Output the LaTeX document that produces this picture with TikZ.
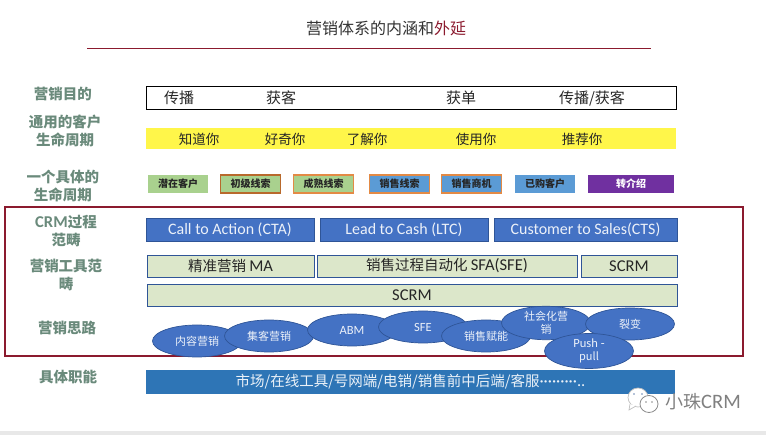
\documentclass[tikz,border=0pt]{standalone}
\usepackage{fontspec}
\usepackage{tikz}
\usetikzlibrary{shapes.geometric}
\setmainfont{Noto Sans CJK SC}
\newfontfamily\latin[Scale=1.14]{Carlito}
\definecolor{crimson}{HTML}{8B1A2E}
\definecolor{sage}{HTML}{6A8A7B}
\definecolor{navy}{HTML}{2F5597}
\definecolor{royal}{HTML}{4472C4}
\definecolor{pale}{HTML}{DCE7CA}
\definecolor{leaf}{HTML}{A9D18E}
\definecolor{sky}{HTML}{5B9BD5}
\definecolor{sun}{HTML}{FFF64A}
\definecolor{grape}{HTML}{7030A0}
\definecolor{ocean}{HTML}{2E75B6}
\definecolor{rust}{HTML}{B8692C}
\definecolor{tangerine}{HTML}{E38A45}
\tikzset{
  band/.style={rectangle,inner sep=0pt,minimum height=#1},
  rowlabel/.style={text=sage,font=\fontsize{14.5}{17.5}\selectfont\bfseries,align=center,inner sep=0pt},
  plain/.style={text=black!85,font=\fontsize{13.5}{17}\selectfont,inner sep=0pt},
  stage/.style={band=18pt,minimum width=#1,font=\fontsize{10}{12}\selectfont\bfseries,text=black!85},
  process/.style={band=23pt,minimum width=#1,draw=navy,line width=0.8pt,fill=royal,text=white!90!royal,font=\fontsize{14}{17}\selectfont},
  tool/.style={band=22pt,minimum width=#1,draw=navy,line width=0.8pt,fill=pale,text=black!85,font=\fontsize{14.5}{17}\selectfont},
  idea/.style={ellipse,inner sep=0pt,minimum width=89pt,minimum height=32pt,draw=navy,line width=0.7pt,fill=royal,text=white!90!royal,align=center,font=\fontsize{11}{13.5}\selectfont}
}
\begin{document}
\begin{tikzpicture}[x=1pt,y=-1pt]

    \useasboundingbox (0,0) rectangle (766,435);
    \fill[black!9] (0,431) rectangle (766,435);

    \node[inner sep=0pt,text=black!80,font=\fontsize{16}{19}\selectfont] (title) at (386,28) {营销体系的内涵和\textcolor{crimson}{外延}};
    \coordinate (ruleL) at (87,48);
    \coordinate (ruleR) at (651,48);
    \draw[crimson,line width=0.8pt] (ruleL) -- (ruleR);

    % left column
    \node[rowlabel] (lblGoal)  at (63,94)    {营销目的};
    \node[rowlabel] (lblCycle) at (65,131)   {通用的客户\\生命周期};
    \node[rowlabel] (lblOne)   at (63,186)   {一个具体的\\生命周期};
    \node[rowlabel] (lblCrm)   at (66,231)   {{\latin CRM}过程\\范畴};
    \node[rowlabel] (lblTool)  at (66,275)   {营销工具范\\畴};
    \node[rowlabel] (lblIdea)  at (67,328)   {营销思路};
    \node[rowlabel] (lblJob)   at (68,377)   {具体职能};

    % goal row
    \node[band=23.5pt,minimum width=530pt,draw=black,line width=0.8pt] (goal) at (411,98) {};
    \node[plain,font=\fontsize{15}{17}\selectfont] (goalA) at (179,98) {传播};
    \node[plain,font=\fontsize{15}{17}\selectfont] (goalB) at (281,98) {获客};
    \node[plain,font=\fontsize{15}{17}\selectfont] (goalC) at (461,98) {获单};
    \node[plain,font=\fontsize{15}{17}\selectfont] (goalD) at (592,98) {传播/获客};

    % yellow row
    \node[band=21pt,minimum width=530pt,fill=sun] (cycle) at (411,138.5) {};
    \node[plain] (cycleA) at (199,139) {知道你};
    \node[plain] (cycleB) at (285,139) {好奇你};
    \node[plain] (cycleC) at (367,139) {了解你};
    \node[plain] (cycleD) at (476,139) {使用你};
    \node[plain] (cycleE) at (582,139) {推荐你};

    % stages
    \node[stage=60pt,fill=leaf]                                        (stA) at (178,184)   {潜在客户};
    \node[stage=60pt,fill=leaf,draw=rust,line width=1.2pt]             (stB) at (250.5,184) {初级线索};
    \node[stage=60pt,fill=leaf,draw=tangerine,line width=1.2pt]        (stC) at (323.5,184) {成熟线索};
    \node[stage=60pt,fill=sky,draw=tangerine,line width=1.2pt]         (stD) at (399.5,184) {销售线索};
    \node[stage=60pt,fill=sky,draw=tangerine,line width=1.2pt]         (stE) at (471.5,184) {销售商机};
    \node[stage=60pt,fill=sky]                                         (stF) at (545,184)   {已购客户};
    \node[stage=86pt,fill=grape,text=white]                            (stG) at (631,184)   {转介绍};

    % frame
    \node[rectangle,draw=crimson,line width=2pt,minimum width=738pt,minimum height=149pt,inner sep=0pt] (frame) at (374,281.5) {};

    \node[process=168pt] (cta) at (230,229.5) {\latin Call to Action (CTA)};
    \node[process=168pt] (ltc) at (404,229.5) {\latin Lead to Cash (LTC)};
    \node[process=183pt] (cts) at (585.5,229.5) {\latin Customer to Sales(CTS)};

    \node[tool=167pt] (ma)    at (230.5,266) {精准营销 {\latin MA}};
    \node[tool=260pt] (sfa)   at (447,266)   {销售过程自动化 {\latin SFA(SFE)}};
    \node[tool=96pt]  (scrmA) at (629,266)   {\latin SCRM};
    \node[tool=530pt] (scrmB) at (412,295)   {\latin SCRM};

    % ideas, later ones lie on top
    \node[idea] (content) at (197,341) {内容营销};
    \node[idea] (inbound) at (269,336) {集客营销};
    \node[idea] (abm)     at (352,330) {\latin ABM};
    \node[idea] (sfe)     at (423,327) {\latin SFE};
    \node[idea] (enable)  at (486,336) {销售赋能};
    \node[idea] (social)  at (546,323) {社会化营\\销};
    \node[idea] (viral)   at (630,324) {裂变};
    \node[idea] (push)    at (589,351) {\latin Push -\\pull};

    % jobs
    \node[band=24pt,minimum width=529pt,fill=ocean,text=white!90!ocean,font=\fontsize{14.5}{17}\selectfont] (jobs) at (410.5,382)
        {市场/在线工具/号网端/电销/销售前中后端/客服{\latin \textperiodcentered\textperiodcentered\textperiodcentered\textperiodcentered\textperiodcentered\textperiodcentered\textperiodcentered\textperiodcentered\textperiodcentered..}};

    % watermark
    \node[inner sep=0pt,text=black!50,font=\fontsize{18}{21}\selectfont] (mark) at (703,402) {小珠{\latin CRM}};
    \draw[black!25,line width=0.7pt,fill=white] (638,397.5) ellipse (10pt and 9.5pt);
    \draw[black!25,line width=0.7pt,fill=white] (630,404) -- (629,410) -- (636,406);
    \draw[black!45,line width=0.8pt,fill=white] (649,404) ellipse (9pt and 8.5pt);
    \fill[black!45] (646,402) circle (0.8pt) (652,402) circle (0.8pt);
    \fill[navy!70] (634,394) circle (0.8pt) (642,394) circle (0.8pt);

  \end{tikzpicture}
\end{document}
